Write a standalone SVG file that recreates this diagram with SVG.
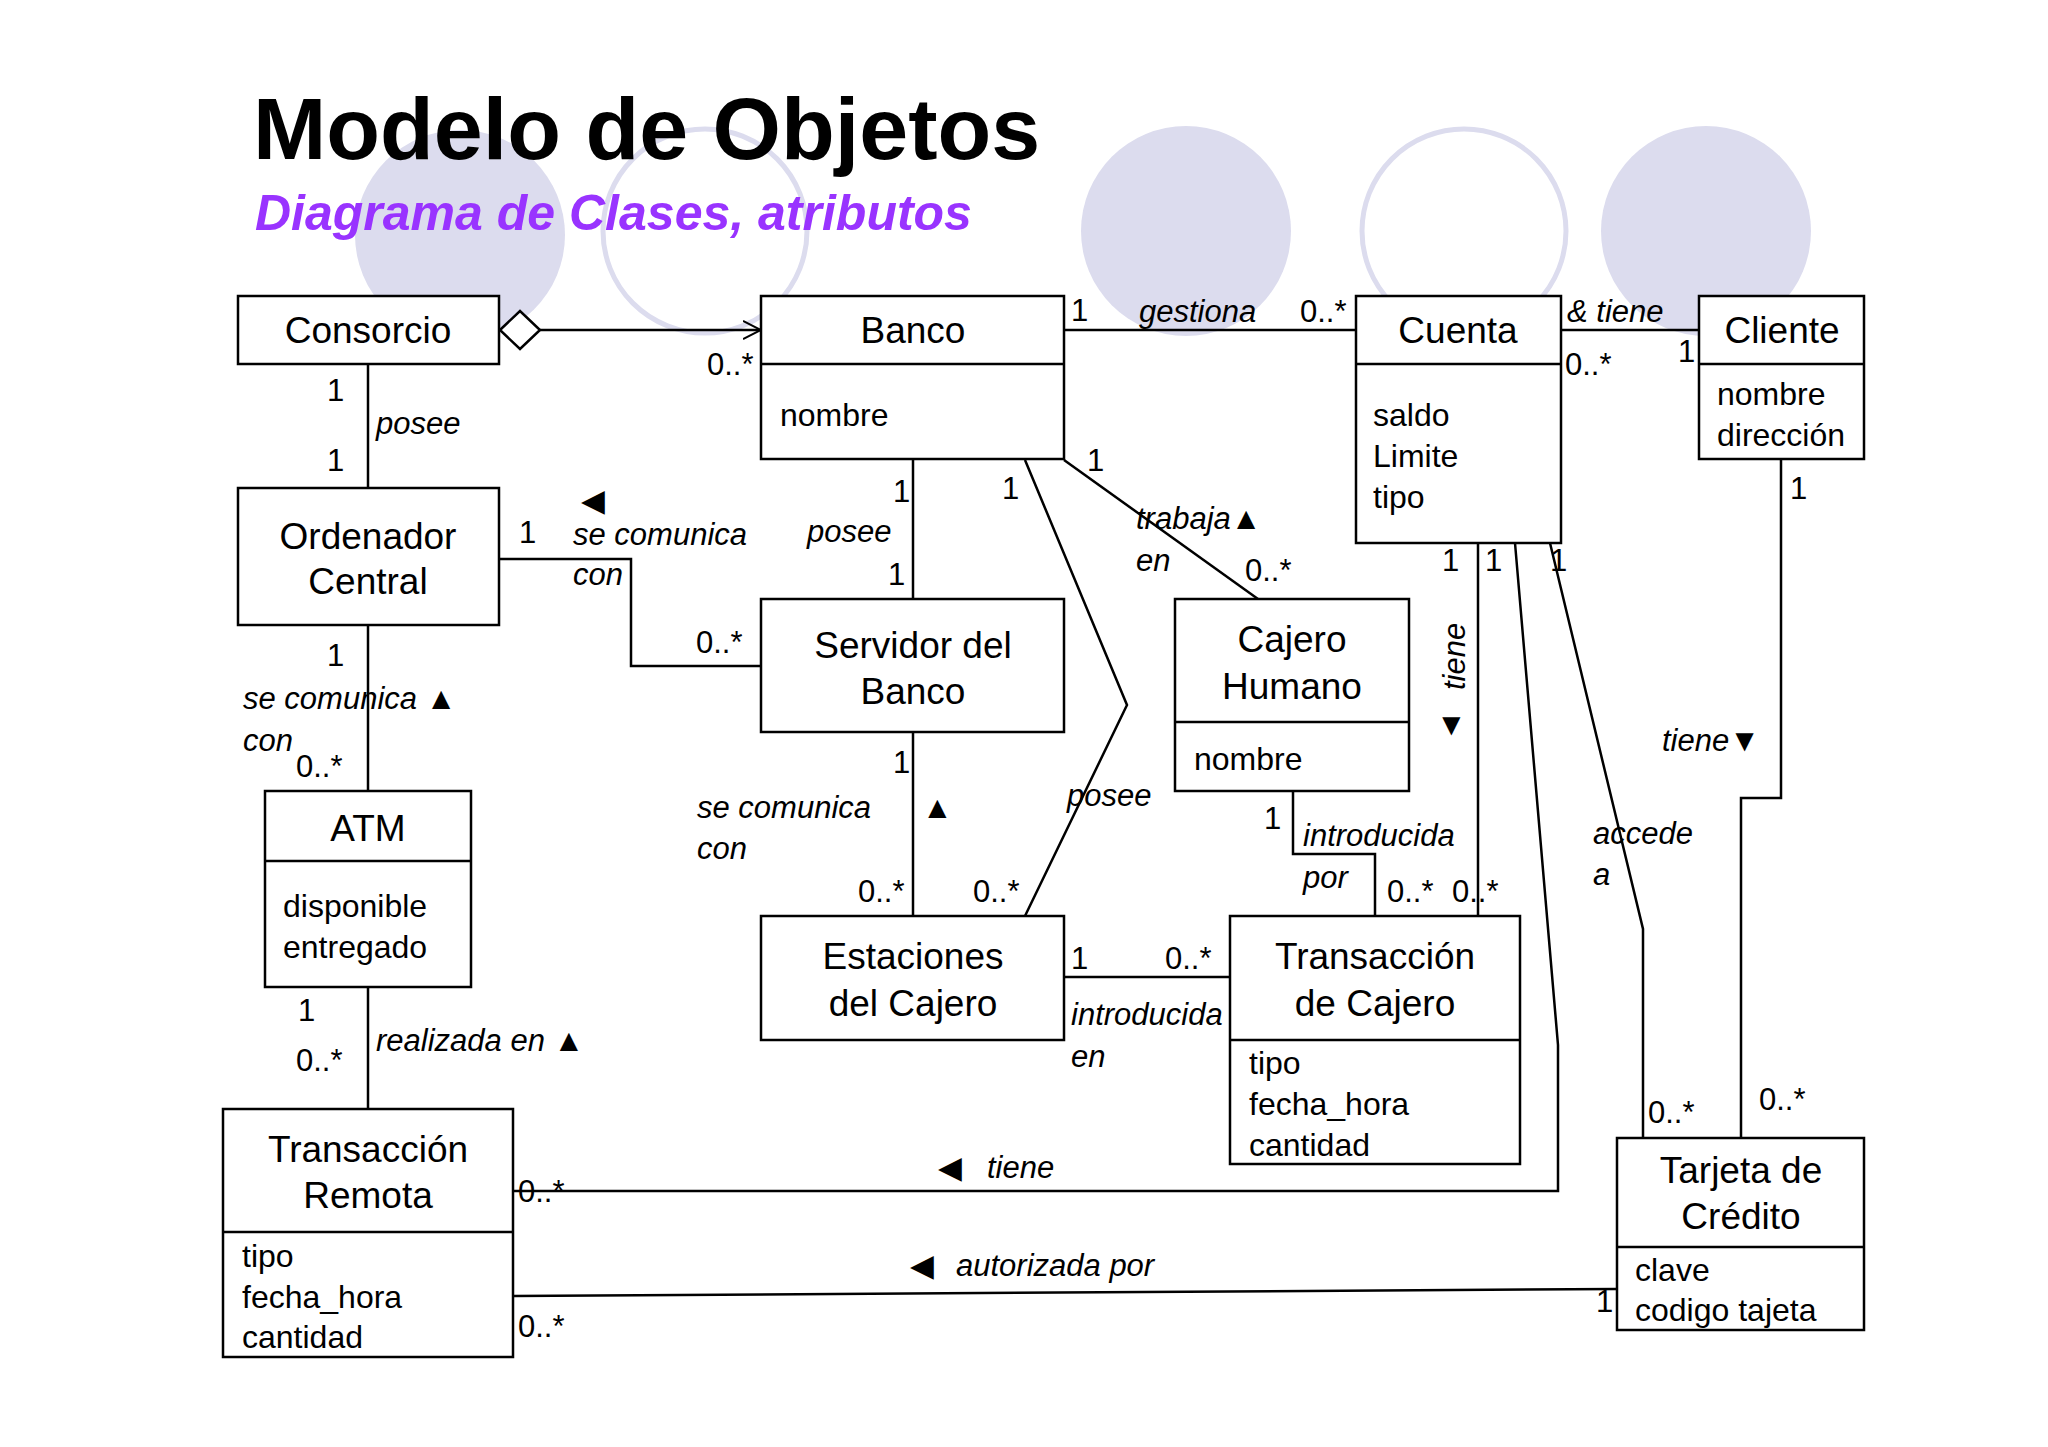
<svg xmlns="http://www.w3.org/2000/svg" width="2048" height="1447" viewBox="0 0 2048 1447">
<style>
text{font-family:"Liberation Sans",Arial,sans-serif;fill:#000}
.n{font-size:37px;text-anchor:middle}
.a{font-size:32px}
.l{font-size:31px;font-style:italic}
.m{font-size:31px}
.box{fill:#fff;stroke:#000;stroke-width:2.5}
.c{fill:none;stroke:#000;stroke-width:2.5}
.ci{fill:#dcdcee}
.co{fill:none;stroke:#dcdcee;stroke-width:5}
</style>
<defs><marker id="op" markerWidth="20" markerHeight="20" refX="18" refY="10" orient="auto" markerUnits="userSpaceOnUse"><path d="M0,1 L18,10 L0,19" fill="none" stroke="#000" stroke-width="2"/></marker></defs>
<rect width="2048" height="1447" fill="#fff"/>
<circle class="ci" cx="460" cy="235" r="105"/>
<circle class="co" cx="705" cy="231" r="102"/>
<circle class="ci" cx="1186" cy="231" r="105"/>
<circle class="co" cx="1464" cy="231" r="102"/>
<circle class="ci" cx="1706" cy="231" r="105"/>
<text x="253" y="159" style="font-size:88px;font-weight:bold">Modelo de Objetos</text>
<text x="255" y="230" style="font-size:50px;font-weight:bold;font-style:italic;fill:#9933ff">Diagrama de Clases, atributos</text>
<g id="connectors">
<path class="c" d="M540,330 L761,330" marker-end="url(#op)"/>
<path d="M500,330 L520,311 L540,330 L520,349 Z" fill="#fff" stroke="#000" stroke-width="2.5"/>
<path class="c" d="M1064,330 L1356,330"/>
<path class="c" d="M1561,330 L1699,330"/>
<path class="c" d="M368,364 L368,488"/>
<path class="c" d="M499,559 L631,559 L631,666 L761,666"/>
<path class="c" d="M913,460 L913,599"/>
<path class="c" d="M1025,460 L1127,705 L1025,916"/>
<path class="c" d="M1064,460 L1258,599"/>
<path class="c" d="M368,625 L368,791"/>
<path class="c" d="M913,732 L913,916"/>
<path class="c" d="M1293,791 L1293,854 L1375,854 L1375,916"/>
<path class="c" d="M1478,543 L1478,916"/>
<path class="c" d="M1515,543 L1558,1045 L1558,1191 L513,1191"/>
<path class="c" d="M1550,543 L1643,929 L1643,1138"/>
<path class="c" d="M1781,460 L1781,798 L1741,798 L1741,1138"/>
<path class="c" d="M368,987 L368,1109"/>
<path class="c" d="M1064,977 L1230,977"/>
<path class="c" d="M513,1296 L1617,1289"/>
<g class="m">
<text x="707" y="375">0..*</text>
<text x="1071" y="321">1</text><text x="1300" y="322">0..*</text>
<text x="1565" y="375">0..*</text><text x="1678" y="362">1</text>
<text x="327" y="401">1</text><text x="327" y="471">1</text>
<text x="519" y="543">1</text><text x="696" y="653">0..*</text>
<text x="893" y="502">1</text><text x="888" y="585">1</text>
<text x="1002" y="499">1</text><text x="973" y="902">0..*</text>
<text x="1087" y="471">1</text><text x="1245" y="581">0..*</text>
<text x="327" y="666">1</text><text x="296" y="777">0..*</text>
<text x="893" y="773">1</text><text x="858" y="902">0..*</text>
<text x="1264" y="829">1</text><text x="1387" y="902">0..*</text>
<text x="1442" y="571">1</text><text x="1452" y="902">0..*</text>
<text x="1485" y="571">1</text><text x="518" y="1202">0..*</text>
<text x="1550" y="571">1</text><text x="1648" y="1123">0..*</text>
<text x="1790" y="499">1</text><text x="1759" y="1110">0..*</text>
<text x="298" y="1021">1</text><text x="296" y="1071">0..*</text>
<text x="1071" y="969">1</text><text x="1165" y="969">0..*</text>
<text x="1596" y="1312">1</text><text x="518" y="1337">0..*</text>
</g>
<g class="l">
<text x="1139" y="322">gestiona</text>
<text x="1567" y="322">&amp; tiene</text>
<text x="376" y="434">posee</text>
<text x="581" y="511" style="font-style:normal">◀</text>
<text x="573" y="545">se comunica</text><text x="573" y="585">con</text>
<text x="807" y="542">posee</text>
<text x="1067" y="806">posee</text>
<text x="1136" y="529">trabaja▲</text><text x="1136" y="571">en</text>
<text x="243" y="709">se comunica ▲</text><text x="243" y="751">con</text>
<text x="697" y="818">se comunica</text><text x="697" y="859">con</text>
<text x="922" y="818" style="font-style:normal">▲</text>
<text x="1303" y="846">introducida</text><text x="1303" y="888">por</text>
<text transform="translate(1465,690) rotate(-90)">tiene</text>
<text x="1436" y="735" style="font-style:normal">▼</text>
<text x="938" y="1178" style="font-style:normal">◀</text><text x="987" y="1178">tiene</text>
<text x="1593" y="844">accede</text><text x="1593" y="885">a</text>
<text x="1662" y="751">tiene▼</text>
<text x="376" y="1051">realizada en ▲</text>
<text x="1071" y="1025">introducida</text><text x="1071" y="1067">en</text>
<text x="910" y="1276" style="font-style:normal">◀</text><text x="956" y="1276">autorizada por</text>
</g>
</g>
<g id="consorcio"><rect class="box" x="238" y="296" width="261" height="68"/><text class="n" x="368" y="343">Consorcio</text></g>
<g id="banco"><rect class="box" x="761" y="296" width="303" height="163"/><line class="c" x1="761" y1="364" x2="1064" y2="364"/><text class="n" x="913" y="343">Banco</text><text class="a" x="780" y="426">nombre</text></g>
<g id="cuenta"><rect class="box" x="1356" y="296" width="205" height="247"/><line class="c" x1="1356" y1="364" x2="1561" y2="364"/><text class="n" x="1458" y="343">Cuenta</text><text class="a" x="1373" y="426">saldo</text><text class="a" x="1373" y="467">Limite</text><text class="a" x="1373" y="508">tipo</text></g>
<g id="cliente"><rect class="box" x="1699" y="296" width="165" height="163"/><line class="c" x1="1699" y1="364" x2="1864" y2="364"/><text class="n" x="1782" y="343">Cliente</text><text class="a" x="1717" y="405">nombre</text><text class="a" x="1717" y="446">dirección</text></g>
<g id="ordenador"><rect class="box" x="238" y="488" width="261" height="137"/><text class="n" x="368" y="549">Ordenador</text><text class="n" x="368" y="594">Central</text></g>
<g id="servidor"><rect class="box" x="761" y="599" width="303" height="133"/><text class="n" x="913" y="658">Servidor del</text><text class="n" x="913" y="704">Banco</text></g>
<g id="cajero"><rect class="box" x="1175" y="599" width="234" height="192"/><line class="c" x1="1175" y1="722" x2="1409" y2="722"/><text class="n" x="1292" y="652">Cajero</text><text class="n" x="1292" y="699">Humano</text><text class="a" x="1194" y="770">nombre</text></g>
<g id="atm"><rect class="box" x="265" y="791" width="206" height="196"/><line class="c" x1="265" y1="861" x2="471" y2="861"/><text class="n" x="368" y="841">ATM</text><text class="a" x="283" y="917">disponible</text><text class="a" x="283" y="958">entregado</text></g>
<g id="estaciones"><rect class="box" x="761" y="916" width="303" height="124"/><text class="n" x="913" y="969">Estaciones</text><text class="n" x="913" y="1016">del Cajero</text></g>
<g id="transcajero"><rect class="box" x="1230" y="916" width="290" height="248"/><line class="c" x1="1230" y1="1040" x2="1520" y2="1040"/><text class="n" x="1375" y="969">Transacción</text><text class="n" x="1375" y="1016">de Cajero</text><text class="a" x="1249" y="1074">tipo</text><text class="a" x="1249" y="1115">fecha_hora</text><text class="a" x="1249" y="1156">cantidad</text></g>
<g id="transremota"><rect class="box" x="223" y="1109" width="290" height="248"/><line class="c" x1="223" y1="1232" x2="513" y2="1232"/><text class="n" x="368" y="1162">Transacción</text><text class="n" x="368" y="1208">Remota</text><text class="a" x="242" y="1267">tipo</text><text class="a" x="242" y="1308">fecha_hora</text><text class="a" x="242" y="1348">cantidad</text></g>
<g id="tarjeta"><rect class="box" x="1617" y="1138" width="247" height="192"/><line class="c" x1="1617" y1="1247" x2="1864" y2="1247"/><text class="n" x="1741" y="1183">Tarjeta de</text><text class="n" x="1741" y="1229">Crédito</text><text class="a" x="1635" y="1281">clave</text><text class="a" x="1635" y="1321">codigo tajeta</text></g>
</svg>
